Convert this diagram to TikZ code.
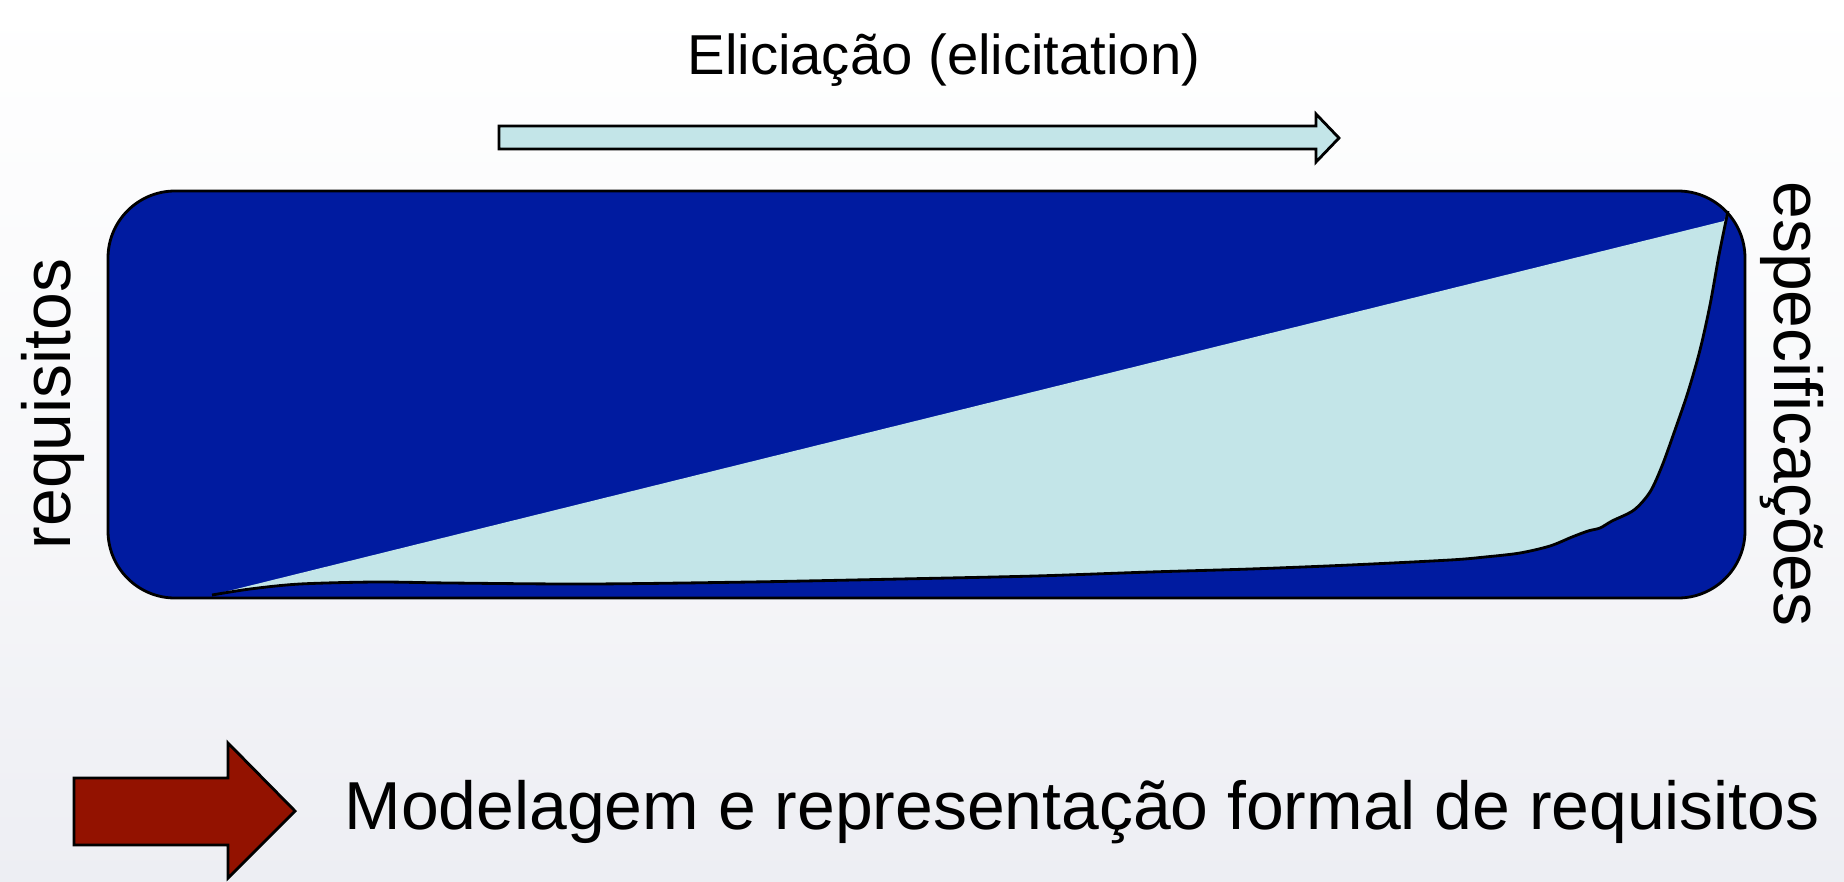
\documentclass[tikz,border=0pt]{standalone}
\usepackage{fontspec}
\setmainfont{Liberation Sans}
\definecolor{boxblue}{RGB}{0,27,160}
\definecolor{lightcyan}{RGB}{195,229,232}
\definecolor{darkred}{RGB}{147,18,0}
\definecolor{bgbottom}{RGB}{237,238,243}
\tikzset{
  outline/.style={draw=black, line width=0.8pt, line join=miter},
  label/.style={inner sep=0pt, font=\fontsize{19.3}{23}\selectfont},
}
\def\edgepts{(1728,211) (1719,255) (1710,305) (1700,350) (1688,392) (1675,430) (1662,466) (1650,492) (1634,510) (1612,521) (1600,528) (1588,531) (1572,537) (1550,546) (1520,553) (1485,557) (1450,560) (1350,565) (1250,569) (1150,572) (1035,576) (900,579) (750,582) (588,584) (450,583) (376,582) (300,584) (250,589) (212,595)}
\begin{document}
\begin{tikzpicture}[x=0.01cm, y=-0.01cm]
  % background
  \useasboundingbox (0,0) rectangle (1844,881);
  \shade[top color=white, bottom color=bgbottom, middle color=white!60!bgbottom] (0,0) rectangle (1844,881);

  % title
  \node[label, font=\fontsize{16}{19}\selectfont, anchor=base] (title) at (944,74) {Eliciação (elicitation)};

  % top arrow
  \draw[outline, fill=lightcyan] (499,126) -- (1316,126) -- (1316,114) -- (1339,138) -- (1316,162) -- (1316,149) -- (499,149) -- cycle;

  % main rounded box
  \draw[outline, fill=boxblue, rounded corners=0.67cm] (108,191) rectangle (1745,598);

  % light region
  \fill[lightcyan] (212,595) -- (1724,221) -- plot[smooth, tension=0.5] coordinates {\edgepts} -- cycle;
  \draw[black, line width=0.8pt] plot[smooth, tension=0.5] coordinates {\edgepts};

  % side labels
  \node[label, rotate=90] (req) at (53,404) {requisitos};
  \node[label, rotate=-90] (spec) at (1792,404) {especificações};

  % red arrow
  \draw[outline, fill=darkred] (74,778) -- (228,778) -- (228,743) -- (295,811) -- (228,878) -- (228,845) -- (74,845) -- cycle;

  % bottom caption
  \node[label, anchor=base west] (caption) at (344,829) {Modelagem e representação formal de requisitos};
\end{tikzpicture}
\end{document}
